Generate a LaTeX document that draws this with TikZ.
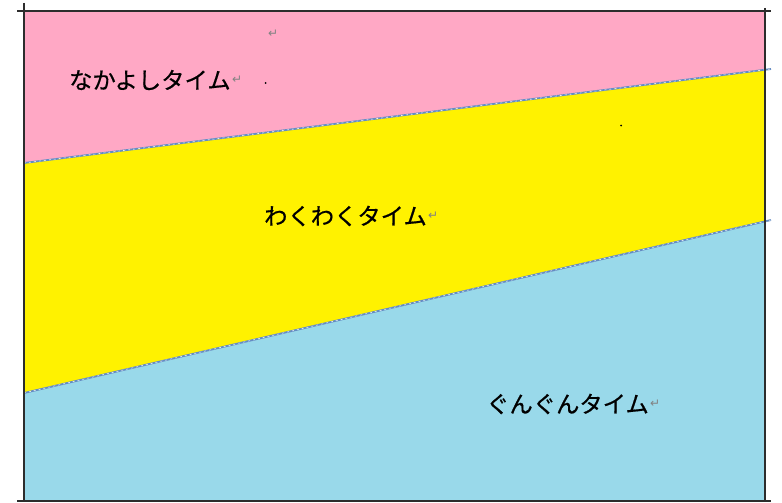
\documentclass[tikz,border=0pt]{standalone}
\usepackage{fontspec}
\newfontfamily\jp[FakeBold=0.6]{Noto Sans CJK JP}
\newfontfamily\dv{DejaVu Sans}
\definecolor{bgpink}{RGB}{255,168,197}
\definecolor{bgyellow}{RGB}{255,242,0}
\definecolor{bgblue}{RGB}{153,217,234}
\definecolor{seam}{RGB}{100,140,195}
\definecolor{frame}{RGB}{45,45,45}
\definecolor{markgray}{RGB}{130,130,130}
\tikzset{
  label/.style={inner sep=0pt, anchor=west, font=\jp\fontsize{23.3}{23.3}\selectfont, text=black},
  retmark/.style={inner sep=0pt, anchor=west, font=\dv\fontsize{12}{12}\selectfont, text=markgray},
  seamline/.style={draw=seam, line width=1.8pt},
  seamdash/.style={draw=white!85!seam, line width=0.6pt, dash pattern=on 2pt off 3pt},
  frameline/.style={draw=frame, line width=1.4pt},
}
\begin{document}
\begin{tikzpicture}[x=1pt,y=-1pt]
\useasboundingbox (0,0) rectangle (782,503);
\fill[white] (0,0) rectangle (782,503);
% bands
\fill[bgpink] (24,11) -- (765,11) -- (765,70) -- (24,163) -- cycle;
\fill[bgyellow] (24,163) -- (765,70) -- (765,221) -- (24,393) -- cycle;
\fill[bgblue] (24,393) -- (765,221) -- (765,501) -- (24,501) -- cycle;
% seams
\coordinate (s1a) at (24,163); \coordinate (s1b) at (771,69);
\coordinate (s2a) at (24,393); \coordinate (s2b) at (771,220);
\draw[seamline] (s1a) -- (s1b);
\draw[seamdash] (s1a) -- (s1b);
\draw[seamline] (s2a) -- (s2b);
\draw[seamdash] (s2a) -- (s2b);
% frame
\coordinate (tl) at (17,11); \coordinate (tr) at (771,11);
\coordinate (bl) at (17,501); \coordinate (br) at (771,501);
\coordinate (lt) at (24,3); \coordinate (lb) at (24,501);
\coordinate (rt) at (765,8); \coordinate (rb) at (765,501);
\draw[frameline] (tl) -- (tr);
\draw[frameline] (bl) -- (br);
\draw[frameline] (lt) -- (lb);
\draw[frameline] (rt) -- (rb);
% labels
\node[label] (naka) at (69,80) {なかよしタイム};
\node[retmark] (r1) at ([xshift=1pt]naka.east) {↵};
\node[label] (waku) at (264,216) {わくわくタイム};
\node[retmark] (r2) at ([xshift=1pt]waku.east) {↵};
\node[label] (gun) at (486,404) {ぐんぐんタイム};
\node[retmark] (r3) at ([xshift=1pt]gun.east) {↵};
\node[retmark] (r0) at (268,34) {↵};
% stray dots
\fill[black] (265.5,83) circle (1);
\fill[black] (621,125.5) circle (1);
\end{tikzpicture}
\end{document}
